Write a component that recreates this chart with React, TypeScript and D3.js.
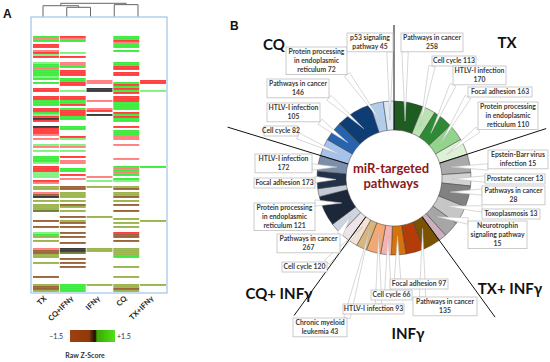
import React, { useEffect } from "react";
import * as d3 from "d3";

const W = 550;
const H = 362;

// ---------------- Panel A data ----------------
const hmColumns = ["TX", "CQ+IFNγ", "IFNγ", "CQ", "TX+IFNγ"];
// codes: R red, r light red, G green, g light green, K black, O olive, B brown, D dark olive, . empty
const hmRows: string[] = [
  "GR.G.", "rr.G.", "GG.R.", "...r.", "R..G.", "R..G.", ".....", "r..G.", "Rg...", "g....",
  "RR...", ".....", ".....", "gr.G.", "Gr.G.", "GG.R.", "r..R.", "GR...", "GR.R.", "GR.R.",
  "g....", "GG...", ".Gr.R", "GRrGR", ".R.R.", "...G.", "R.KR.", "RgKGg", "...R.", ".....",
  "RR.R.", "RR.R.", "GGrR.", "GG.G.", "GR.G.", "...G.", "RGrG.", "RRR..", "GR.R.", "gRKG.",
  "RG.R.", "KG.G.", "R..G.", ".....", ".....", "KG.R.", "RG...", "R..G.", "R..G.", "r..G.",
  ".R.r.", "rg.r.", ".....", ".....", "gg.r.", "rr...", ".....", "gg...", ".....", ".....",
  "GR...", "G..r.", "Gr...", "gr...", ".....", "R..GG", "RG.r.", "RG.G.", "g..r.", "gR.G.",
  "g.r..", ".r.G.", "R.gg.", "r....", ".....", "OBOO.", "OB.B.", ".....", "rO.O.", "BO.O.",
  "KO.B.", ".....", "OO.O.", ".....", "OB.B.", "OO...", "O....", "DO.B.", ".....", ".....",
  ".BO..", "...O.", "BO..O", ".B.O.", ".....", "BB.O.", ".....", ".....", "gB.R.", "G..B.",
  "OB.B.", ".....", "O..B.", ".B...", ".....", ".....", "rKOO.", "BKOO.", "BD.O.", "O..O.",
  "O..G.", ".B...", ".....", "OB...", ".....", ".B.O.", ".....", ".....", ".....", ".....",
  "B..O.", ".....", ".....", ".....", "OGOOO", "BG.O.", "BG.B.", "OG.O.",
];
const hmCodes = ["R", "r", "G", "g", "K", "O", "B", "D"];
const keyTicks = ["−1.5", "+1.5"];
const keyTitle = "Raw Z-Score";
// [childA, childB, height]; leaves are 0..4, merged nodes get ids 5,6,...
const dendroMerges: [number, number, number][] = [
  [1, 2, 0.7],
  [0, 5, 0.82],
  [3, 4, 0.9],
  [6, 7, 1.0],
];

// ---------------- Panel B data ----------------
const groupNames = ["TX", "TX+ INFγ", "INFγ", "CQ+ INFγ", "CQ"];
const segGroup = [0, 0, 0, 0, 0, 1, 1, 1, 1, 1, 1, 2, 2, 2, 2, 2, 2, 2, 3, 3, 3, 3, 3, 3, 4, 4, 4, 4, 4];
const segNames = [
  "Pathways in cancer", "Cell cycle", "HTLV-I infection", "Focal adhesion", "Protein processing in endoplasmic reticulum",
  "Epstein-Barr virus infection", "Prostate cancer", "Pathways in cancer", "Toxoplasmosis", "Neurotrophin signaling pathway", "",
  "Pathways in cancer", "", "Focal adhesion", "Cell cycle", "HTLV-I infection", "Chronic myeloid leukemia", "Cell cycle",
  "", "Pathways in cancer", "Protein processing in endoplasmic reticulum", "", "Focal adhesion", "HTLV-I infection",
  "Cell cycle", "HTLV-I infection", "Pathways in cancer", "Protein processing in endoplasmic reticulum", "p53 signaling pathway",
];
const segCounts: (number | null)[] = [
  258, 113, 170, 163, 110,
  15, 13, 28, 13, 15, null,
  135, null, 97, 66, 93, 43, 120,
  null, 267, 121, null, 173, 172,
  82, 105, 146, 72, 45,
];
// angular width of each ring segment (degrees)
const segSpans = [22, 10, 15, 13, 12, 14, 10, 16, 14, 12, 6, 13, 14, 11, 8, 11, 8, 7, 8, 9, 23, 6, 13, 12, 13, 15, 27, 10, 8];

// ---------------- styles / layout ----------------
const hmColors = ["#ff1f1f", "#ff6b6b", "#1fe61f", "#6cef6c", "#1a1a1a", "#8ba832", "#8a4b1c", "#56661a"];
const segColors = [
  "#1e5c22", "#b9e4b0", "#2f8a35", "#93d48c", "#dcf1d6",
  "#a9a9a9", "#d2d2d2", "#818181", "#c6c6c6", "#a6a6a6", "#cdb0bd",
  "#7a5200", "#b43c08", "#d5730c", "#f5b2b2", "#f3a771", "#d9b57e", "#f6e2d4",
  "#ece4e6", "#ced4e0", "#1c2739", "#c3cbd8", "#233249", "#7b8fab",
  "#a4c2ea", "#2864ae", "#0e3c74", "#b2cdec", "#dde8f5",
];
// callout boxes: seg index, x0, y0, x1, words per line
const callouts: { seg: number; x0: number; y0: number; x1: number; wrap: number[] }[] = [
  { seg: 0, x0: 401, y0: 33, x1: 463, wrap: [3, 1] },
  { seg: 1, x0: 432, y0: 56, x1: 476, wrap: [3] },
  { seg: 2, x0: 453, y0: 66, x1: 506, wrap: [2, 1] },
  { seg: 3, x0: 468, y0: 87, x1: 532, wrap: [3] },
  { seg: 4, x0: 478, y0: 102, x1: 538, wrap: [2, 2, 2] },
  { seg: 5, x0: 488, y0: 150, x1: 548, wrap: [2, 2] },
  { seg: 6, x0: 485, y0: 174, x1: 545, wrap: [3] },
  { seg: 7, x0: 482, y0: 186, x1: 545, wrap: [3, 1] },
  { seg: 8, x0: 482, y0: 209, x1: 540, wrap: [2] },
  { seg: 9, x0: 468, y0: 221, x1: 527, wrap: [1, 2, 1] },
  { seg: 11, x0: 413, y0: 297, x1: 477, wrap: [3, 1] },
  { seg: 13, x0: 390, y0: 279, x1: 448, wrap: [3] },
  { seg: 14, x0: 371, y0: 290, x1: 412, wrap: [3] },
  { seg: 15, x0: 343, y0: 304, x1: 404, wrap: [3] },
  { seg: 16, x0: 293, y0: 318, x1: 347, wrap: [2, 2] },
  { seg: 17, x0: 282, y0: 262, x1: 327, wrap: [3] },
  { seg: 19, x0: 277, y0: 234, x1: 340, wrap: [3, 1] },
  { seg: 20, x0: 254, y0: 203, x1: 315, wrap: [2, 2, 2] },
  { seg: 22, x0: 254, y0: 178, x1: 315, wrap: [3] },
  { seg: 23, x0: 255, y0: 154, x1: 312, wrap: [2, 1] },
  { seg: 24, x0: 264, y0: 126, x1: 298, wrap: [3] },
  { seg: 25, x0: 267, y0: 103, x1: 320, wrap: [2, 1] },
  { seg: 26, x0: 267, y0: 79, x1: 329, wrap: [3, 1] },
  { seg: 27, x0: 286, y0: 47, x1: 347, wrap: [2, 2, 2] },
  { seg: 28, x0: 347, y0: 33, x1: 393, wrap: [2, 2] },
];
const groupLabelPos = [
  { x: 507, y: 48 },
  { x: 510, y: 294 },
  { x: 408, y: 339 },
  { x: 279, y: 299 },
  { x: 274, y: 50 },
];
const separatorLen = [153, 160, 172, 170, 174];

const FONT = "Lato, 'Open Sans', Arial, sans-serif";

export default function App() {
  useEffect(() => {
    document.body.style.margin = "0";
  }, []);

  // ---------- heatmap ----------
  const x = d3.scaleBand<string>().domain(hmColumns).range([33, 166]).paddingInner(0.03);
  const y = d3.scaleBand<number>().domain(d3.range(hmRows.length)).range([36, 292]);
  const color = d3.scaleOrdinal<string, string>().domain(hmCodes).range(hmColors);
  const cells: { i: number; j: number; c: string }[] = [];
  hmRows.forEach((row, i) =>
    row.split("").forEach((c, j) => {
      if (c !== ".") cells.push({ i, j, c });
    })
  );

  const leafX = d3.scalePoint<string>().domain(hmColumns).range([43, 138]);
  const dY = d3.scaleLinear().domain([0, 1]).range([16.7, 3.3]);
  const nodes = hmColumns.map((c) => ({ x: leafX(c)!, h: 0 }));
  const dLines: number[][] = [];
  dendroMerges.forEach(([a, b, h]) => {
    const na = nodes[a];
    const nb = nodes[b];
    dLines.push([na.x, dY(na.h), na.x, dY(h)]);
    dLines.push([nb.x, dY(nb.h), nb.x, dY(h)]);
    dLines.push([na.x, dY(h), nb.x, dY(h)]);
    nodes.push({ x: (na.x + nb.x) / 2, h });
  });

  // ---------- donut ----------
  const cx = 394;
  const cy = 178;
  const rIn = 48;
  const rOut = 77;
  const pie = d3
    .pie<number>()
    .sort(null)
    .value((d) => d)(segSpans);
  const arc = d3.arc<d3.PieArcDatum<number>>().innerRadius(rIn).outerRadius(rOut);
  const polar = (r: number, a: number) => [cx + r * Math.sin(a), cy - r * Math.cos(a)];

  const groupStarts = groupNames.map((_, g) => pie[segGroup.indexOf(g)].startAngle);

  const lineH = 8.8;
  const calloutEls = callouts.map((co) => {
    const words = (segNames[co.seg] + " " + segCounts[co.seg]).split(" ");
    const lines: string[] = [];
    let k = 0;
    co.wrap.forEach((n) => {
      lines.push(words.slice(k, k + n).join(" "));
      k += n;
    });
    const h = 1.2 + lineH * lines.length;
    const y1 = co.y0 + h;
    const p = pie[co.seg];
    const mid = (p.startAngle + p.endAngle) / 2;
    const [tx, ty] = polar(58, mid);
    const ax = Math.max(co.x0, Math.min(co.x1, tx));
    const ay = Math.max(co.y0, Math.min(y1, ty));
    const ddx = tx - ax;
    const ddy = ty - ay;
    const len = Math.hypot(ddx, ddy) || 1;
    const nx = -ddy / len;
    const ny = ddx / len;
    const hw = 3.2;
    const wedge = `M${ax + nx * hw},${ay + ny * hw}L${tx},${ty}L${ax - nx * hw},${ay - ny * hw}Z`;
    return { co, lines, h, wedge };
  });

  return (
    <svg
      width={W}
      height={H}
      viewBox={`0 0 ${W} ${H}`}
      style={{ position: "absolute", left: 0, top: 0, background: "#fff", display: "block" }}
      fontFamily={FONT}
    >
      <rect width={W} height={H} fill="#fff" />
      {/* Panel A */}
      <text x={3} y={18} fontSize={12} fontWeight={700} fontFamily="Arial, sans-serif" fill="#111">
        A
      </text>
      {dLines.map((l, i) => (
        <line key={i} x1={l[0]} y1={l[1]} x2={l[2]} y2={l[3]} stroke="#666" strokeWidth={1} />
      ))}
      <rect x={31} y={17} width={136} height={276} fill="#fff" stroke="#9dc3e6" strokeWidth={1.2} />
      {cells.map((d, k) => (
        <rect
          key={k}
          x={x(hmColumns[d.j])}
          y={y(d.i)! + 0.15}
          width={x.bandwidth()}
          height={y.bandwidth() * 0.82}
          fill={color(d.c)}
        />
      ))}
      {hmColumns.map((c) => (
        <text
          key={c}
          transform={`translate(${x(c)! + x.bandwidth() / 2 + 1},${299}) rotate(-45)`}
          textAnchor="end"
          fontSize={7.5}
          fontWeight={700}
          fill="#222"
        >
          {c}
        </text>
      ))}
      <defs>
        <linearGradient id="zkey" x1="0" x2="1" y1="0" y2="0">
          <stop offset="0" stopColor="#a04010" />
          <stop offset="0.42" stopColor="#8e3a0a" />
          <stop offset="0.52" stopColor="#3a1800" />
          <stop offset="0.56" stopColor="#101000" />
          <stop offset="0.6" stopColor="#3aa800" />
          <stop offset="1" stopColor="#52e01a" />
        </linearGradient>
      </defs>
      <rect x={70} y={330} width={45} height={12} fill="url(#zkey)" />
      <text x={63} y={338.5} textAnchor="end" fontSize={7} fill="#333">
        {keyTicks[0]}
      </text>
      <text x={117} y={338.5} fontSize={7} fill="#333">
        {keyTicks[1]}
      </text>
      <text x={85} y={358} textAnchor="middle" fontSize={7} fontWeight={700} fill="#333">
        {keyTitle}
      </text>

      {/* Panel B */}
      <text x={230} y={30} fontSize={12} fontWeight={700} fontFamily="Arial, sans-serif" fill="#111">
        B
      </text>
      {pie.map((p, i) => (
        <path
          key={i}
          d={arc(p)!}
          transform={`translate(${cx},${cy})`}
          fill={segColors[i]}
          stroke="#3a3a3a"
          strokeWidth={0.5}
        />
      ))}
      {calloutEls.map((c, i) => (
        <path key={i} d={c.wedge} fill="#fff" stroke="#bdbdbd" strokeWidth={0.6} />
      ))}
      {groupStarts.map((a, g) => {
        const [x1, y1] = polar(rIn, a);
        const [x2, y2] = polar(separatorLen[g], a);
        return <line key={g} x1={x1} y1={y1} x2={x2} y2={y2} stroke="#111" strokeWidth={1} />;
      })}
      {calloutEls.map((c, i) => (
        <g key={i}>
          <rect
            x={c.co.x0}
            y={c.co.y0}
            width={c.co.x1 - c.co.x0}
            height={c.h}
            fill="#fff"
            stroke="#bfbfbf"
            strokeWidth={0.8}
          />
          {c.lines.map((t, j) => (
            <text
              key={j}
              x={(c.co.x0 + c.co.x1) / 2}
              y={c.co.y0 + 7.2 + j * lineH}
              textAnchor="middle"
              fontSize={6.8}
              fontWeight={700}
              fill="#3b3b3b"
            >
              {t}
            </text>
          ))}
        </g>
      ))}
      {groupNames.map((g, i) => (
        <text
          key={g}
          x={groupLabelPos[i].x}
          y={groupLabelPos[i].y}
          textAnchor="middle"
          fontSize={15}
          fontWeight={700}
          fill="#111"
        >
          {g}
        </text>
      ))}
      <text x={391} y={172.5} textAnchor="middle" fontSize={13} fontWeight={700} fill="#8b1a1a">
        miR-targeted
      </text>
      <text x={391} y={188} textAnchor="middle" fontSize={13} fontWeight={700} fill="#8b1a1a">
        pathways
      </text>
    </svg>
  );
}
